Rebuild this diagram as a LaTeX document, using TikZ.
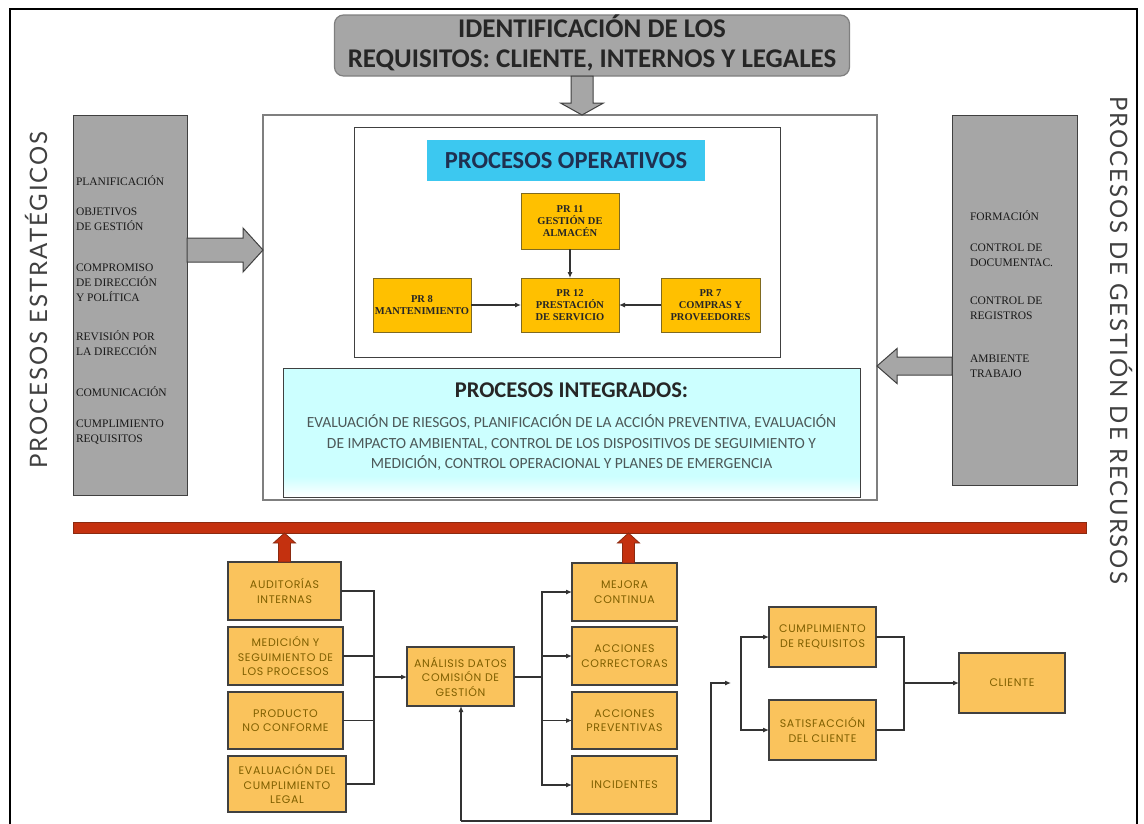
\documentclass[tikz,border=0pt]{standalone}
\usepackage{fontspec}
\setmainfont{Carlito}
\newfontfamily\prfont{Liberation Serif}
\newfontfamily\geofont{Poppins}[LetterSpace=6]
\newfontfamily\sidefont{Lato}[LetterSpace=8]
\usetikzlibrary{calc,arrows.meta}

\definecolor{hdrgray}{HTML}{A6A6A6}
\definecolor{edgegray}{HTML}{7F7F7F}
\definecolor{darkedge}{HTML}{404040}
\definecolor{opcyan}{HTML}{3CC8F0}
\definecolor{navy}{HTML}{1F3050}
\definecolor{prgold}{HTML}{FFC000}
\definecolor{predge}{HTML}{7F6A20}
\definecolor{intcyan}{HTML}{CCFFFF}
\definecolor{bodygray}{HTML}{4D5959}
\definecolor{boxorange}{HTML}{FAC35C}
\definecolor{boxtext}{HTML}{7F5F00}
\definecolor{barred}{HTML}{C4310F}
\definecolor{baredge}{HTML}{8B2A10}
\definecolor{labelgray}{HTML}{404040}

% light cyan that fades to white along the bottom edge
\pgfdeclareverticalshading{intshade}{100bp}{color(0bp)=(white); color(25bp)=(white); color(33bp)=(intcyan); color(100bp)=(intcyan)}

% block arrow: style, from, to, shaft half-width, head half-width, head length
\newcommand\blockarrow[6]{%
  \coordinate (ba-h) at ($(#3)!#6!(#2)$);
  \draw[#1] ($(#2)!#4!90:(#3)$) -- ($(ba-h)!#4!90:(#3)$) -- ($(ba-h)!#5!90:(#3)$)
    -- (#3) -- ($(ba-h)!#5!-90:(#3)$) -- ($(ba-h)!#4!-90:(#3)$) -- ($(#2)!#4!-90:(#3)$) -- cycle;}

\tikzset{
  base/.style={inner sep=0pt, outer sep=0pt},
  hdrbox/.style={base, fill=hdrgray, draw=edgegray, line width=1.2pt, rounded corners=9pt},
  hdrtext/.style={base, align=center, text=black!85, font={\bfseries\fontsize{27}{30}\selectfont}},
  bigbox/.style={base, fill=white, draw=edgegray, line width=1.2pt},
  opbox/.style={base, fill=white, draw=darkedge, line width=1pt},
  optitle/.style={base, fill=opcyan, text=navy, font={\bfseries\fontsize{24.5}{28}\selectfont}},
  prbox/.style={base, fill=prgold, draw=predge, line width=1pt, align=center, text=black!85,
    font={\prfont\bfseries\fontsize{10.5}{12}\selectfont}},
  intbox/.style={base, draw=darkedge, line width=1pt, shading=intshade},
  inttitle/.style={base, text=black!85, font={\bfseries\fontsize{22.5}{26}\selectfont}},
  intbody/.style={base, align=center, text=bodygray, font={\fontsize{15.5}{20.5}\selectfont}},
  sidebox/.style={base, fill=hdrgray, draw=darkedge, line width=1pt},
  itemtxt/.style={base, anchor=west, align=left, text=black!90, font={\prfont\fontsize{11.5}{15}\selectfont}},
  sidelabel/.style={base, text=labelgray, font={\sidefont\fontsize{24}{26}\selectfont}},
  grayarrow/.style={fill=hdrgray, draw=darkedge, line width=1pt},
  redarrow/.style={fill=barred, draw=baredge, line width=0.8pt},
  redbar/.style={base, fill=barred, draw=baredge, line width=1pt},
  lowbox/.style={base, fill=boxorange, draw=black!75, line width=1.3pt, align=center, text=boxtext,
    font={\geofont\fontsize{11}{14.5}\selectfont}},
  conn/.style={draw=black!80, line width=1.1pt},
  arr/.style={conn, -{Latex[length=6pt,width=5pt]}},
}

\begin{document}
\begin{tikzpicture}[x=1pt,y=-1pt]
\useasboundingbox (0,0) rectangle (1144,823);
\clip (0,0) rectangle (1144,823);

% outer frame
\draw[line width=2pt] (10,840) -- (10,9) -- (1137,9) -- (1137,840);

% requirements header
\node[hdrbox, minimum width=515, minimum height=61] (hdr) at (592,45.5) {};
\node[hdrtext] (hdrt) at (592,42.5) {IDENTIFICACIÓN DE LOS\\REQUISITOS: CLIENTE, INTERNOS Y LEGALES};

% central block
\node[bigbox, minimum width=614, minimum height=385] (big) at (570,307.5) {};
\node[opbox, minimum width=426, minimum height=230] (ops) at (567,242) {};
\node[optitle, minimum width=278, minimum height=41] (opt) at (566,160.5) {PROCESOS OPERATIVOS};

\node[prbox, minimum width=98, minimum height=56] (pr11) at (570,221) {PR 11\\GESTIÓN DE\\ALMACÉN};
\node[prbox, minimum width=98, minimum height=54] (pr8) at (422,305) {PR 8\\MANTENIMIENTO};
\node[prbox, minimum width=98, minimum height=54] (pr12) at (570,305) {PR 12\\PRESTACIÓN\\DE SERVICIO};
\node[prbox, minimum width=99, minimum height=54] (pr7) at (710.5,305) {PR 7\\COMPRAS Y\\PROVEEDORES};

\draw[arr] (pr11) -- (pr12);
\draw[arr] (pr8) -- (pr12);
\draw[arr] (pr7) -- (pr12);

\node[intbox, minimum width=577, minimum height=129] (int) at (571.5,432.5) {};
\node[inttitle] (intt) at (571.5,390) {PROCESOS INTEGRADOS:};
\node[intbody] (intb) at (571.5,443)
  {EVALUACIÓN DE RIESGOS, PLANIFICACIÓN DE LA ACCIÓN PREVENTIVA, EVALUACIÓN\\
   DE IMPACTO AMBIENTAL, CONTROL DE LOS DISPOSITIVOS DE SEGUIMIENTO Y\\
   MEDICIÓN, CONTROL OPERACIONAL Y PLANES DE EMERGENCIA};

% strategic processes
\node[sidebox, minimum width=114, minimum height=380] (lg) at (130,305) {};
\node[itemtxt] (l1) at (76,181) {PLANIFICACIÓN};
\node[itemtxt] (l2) at (76,219.5) {OBJETIVOS\\DE GESTIÓN};
\node[itemtxt] (l3) at (76,282.5) {COMPROMISO\\DE DIRECCIÓN\\Y POLÍTICA};
\node[itemtxt] (l4) at (76,343) {REVISIÓN POR\\LA DIRECCIÓN};
\node[itemtxt] (l5) at (76,392) {COMUNICACIÓN};
\node[itemtxt] (l6) at (76,432) {CUMPLIMIENTO\\REQUISITOS};
\node[sidelabel, rotate=90] (lstrat) at (36,300) {PROCESOS ESTRATÉGICOS};

% resource management processes
\node[sidebox, minimum width=125, minimum height=370] (rg) at (1014.5,300) {};
\node[itemtxt] (r1) at (970,216) {FORMACIÓN};
\node[itemtxt] (r2) at (970,255) {CONTROL DE\\DOCUMENTAC.};
\node[itemtxt] (r3) at (970,308.5) {CONTROL DE\\REGISTROS};
\node[itemtxt] (r4) at (970,366) {AMBIENTE\\TRABAJO};
\node[sidelabel, rotate=-90] (lrec) at (1121,340) {PROCESOS DE GESTIÓN DE RECURSOS};

% gray block arrows into the central block
\coordinate (dA) at ([xshift=-10pt]hdr.south);
\coordinate (dB) at (dA |- big.north);
\blockarrow{grayarrow}{dA}{dB}{11pt}{21.5pt}{12pt}
\coordinate (lA) at ([yshift=55pt]lg.east);
\coordinate (lB) at (lA -| big.west);
\blockarrow{grayarrow}{lA}{lB}{12pt}{22pt}{20pt}
\coordinate (rA) at ([yshift=-66pt]rg.west);
\coordinate (rB) at (rA -| big.east);
\blockarrow{grayarrow}{rA}{rB}{9pt}{17.5pt}{20pt}

% improvement bar
\node[redbar, minimum width=1013, minimum height=11] (bar) at (579.5,527.5) {};

% measurement and analysis
\node[lowbox, minimum width=113, minimum height=58] (aud) at (284.5,591) {AUDITORÍAS\\INTERNAS};
\node[lowbox, minimum width=115, minimum height=58] (med) at (285.5,656) {MEDICIÓN Y\\SEGUIMIENTO DE\\LOS PROCESOS};
\node[lowbox, minimum width=115, minimum height=57] (prod) at (285.5,720.5) {PRODUCTO\\NO CONFORME};
\node[lowbox, minimum width=118, minimum height=56] (eval) at (287,784) {EVALUACIÓN DEL\\CUMPLIMIENTO\\LEGAL};
\node[lowbox, minimum width=107, minimum height=59] (ana) at (460.5,676.5) {ANÁLISIS DATOS\\COMISIÓN DE\\GESTIÓN};
\node[lowbox, minimum width=105, minimum height=58] (mej) at (624.5,592) {MEJORA\\CONTINUA};
\node[lowbox, minimum width=105, minimum height=58] (cor) at (624.5,656) {ACCIONES\\CORRECTORAS};
\node[lowbox, minimum width=105, minimum height=57] (pre) at (624.5,720.5) {ACCIONES\\PREVENTIVAS};
\node[lowbox, minimum width=105, minimum height=58] (inc) at (624.5,785) {INCIDENTES};
\node[lowbox, minimum width=107, minimum height=60] (cum) at (822.5,637) {CUMPLIMIENTO\\DE REQUISITOS};
\node[lowbox, minimum width=107, minimum height=60] (sat) at (822.5,730) {SATISFACCIÓN\\DEL CLIENTE};
\node[lowbox, minimum width=106, minimum height=60] (cli) at (1012,683) {CLIENTE};

% red arrows up to the bar
\coordinate (uA) at (aud.north);
\coordinate (uB) at (uA |- bar.south);
\blockarrow{redarrow}{uA}{uB}{6pt}{11pt}{10pt}
\coordinate (vA) at ([xshift=4pt]mej.north);
\coordinate (vB) at (vA |- bar.south);
\blockarrow{redarrow}{vA}{vB}{6pt}{11pt}{10pt}

% inputs to the analysis
\coordinate (jl) at (374,677);
\draw[conn] (aud.east) -| (jl);
\draw[conn] (med.east) -| (jl);
\draw[conn] (prod.east) -| (jl);
\draw[conn] (eval.east) -| (jl);
\draw[arr] (jl) -- (jl -| ana.west);

% outputs of the analysis
\coordinate (jr) at (542,677);
\draw[conn] (ana.east |- jr) -- (jr);
\draw[arr] (jr) |- (mej.west);
\draw[arr] (jr) |- (cor.west);
\draw[arr] (jr) |- (pre.west);
\draw[arr] (jr) |- (inc.west);

% feedback loop
\coordinate (fb1) at (461,821);
\coordinate (fb2) at (711,821);
\coordinate (fb3) at (731,683);
\draw[arr] (fb1) -- (fb1 |- ana.south);
\draw[arr] (fb1) -- (fb2) |- (fb3);

% customer branch
\coordinate (jb) at (741,683);
\draw[arr] (jb) |- (cum.west);
\draw[arr] (jb) |- (sat.west);
\coordinate (jc) at (904,683);
\draw[conn] (cum.east) -| (jc);
\draw[conn] (sat.east) -| (jc);
\draw[arr] (jc) -- (cli.west);
\end{tikzpicture}
\end{document}
